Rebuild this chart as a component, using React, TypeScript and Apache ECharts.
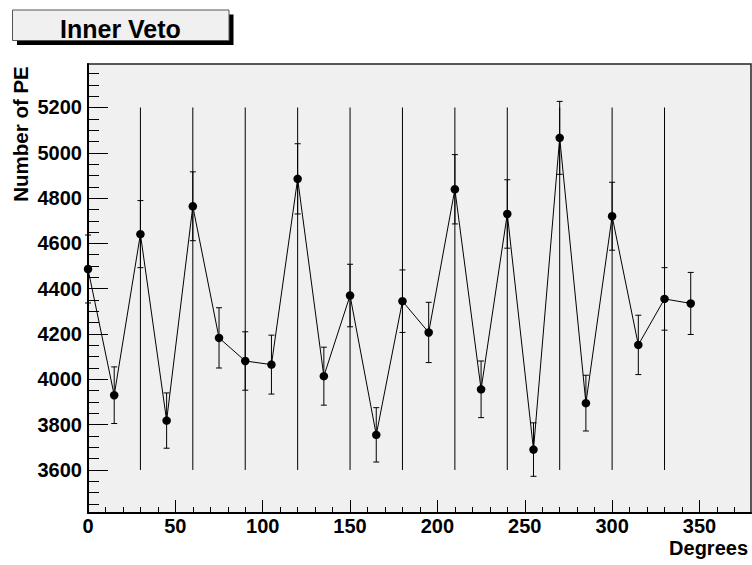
import React, { useEffect, useRef } from "react";
import * as echarts from "echarts";

// Data
const angles = [0, 15, 30, 45, 60, 75, 90, 105, 120, 135, 150, 165, 180, 195, 210, 225, 240, 255, 270, 285, 300, 315, 330, 345];
const numberOfPE = [4487, 3930, 4641, 3818, 4764, 4183, 4081, 4065, 4885, 4014, 4370, 3755, 4345, 4207, 4839, 3956, 4730, 3690, 5066, 3895, 4720, 4152, 4355, 4335];
const peError = [150, 125, 148, 122, 152, 133, 129, 130, 155, 128, 138, 120, 138, 133, 153, 125, 151, 118, 161, 123, 150, 131, 138, 137];

// Vertical marker lines
const pmtAngles = [30, 60, 90, 120, 150, 180, 210, 240, 270, 300, 330];
const pmtLineLow = 3600;
const pmtLineHigh = 5200;

// Axis ticks
const xMajorTicks = [0, 50, 100, 150, 200, 250, 300, 350];
const xMinorTicks = [10, 20, 30, 40, 60, 70, 80, 90, 110, 120, 130, 140, 160, 170, 180, 190, 210, 220, 230, 240, 260, 270, 280, 290, 310, 320, 330, 340, 360, 370];
const yMajorTicks = [3600, 3800, 4000, 4200, 4400, 4600, 4800, 5000, 5200];
const yMinorTicks = [3450, 3500, 3550, 3650, 3700, 3750, 3850, 3900, 3950, 4050, 4100, 4150, 4250, 4300, 4350, 4450, 4500, 4550, 4650, 4700, 4750, 4850, 4900, 4950, 5050, 5100, 5150, 5250, 5300, 5350];

const X_MIN = 0;
const X_MAX = 379.5;
const Y_MIN = 3410;
const Y_MAX = 5392;

const FONT = "'Liberation Sans', Arial, Helvetica, sans-serif";

export default function App() {
  const ref = useRef<HTMLDivElement>(null);

  useEffect(() => {
    if (!ref.current) return;
    const chart = echarts.init(ref.current, undefined, { renderer: "svg" });

    const labelStyle = {
      fontFamily: FONT,
      fontSize: 20,
      fontWeight: "bold" as const,
      color: "#000",
    };

    const points = angles.map((a, i) => [a, numberOfPE[i]]);
    const errors = angles.map((a, i) => [a, numberOfPE[i] - peError[i], numberOfPE[i] + peError[i]]);
    const pmtLines = pmtAngles.map((a) => [a, pmtLineLow, pmtLineHigh]);

    const option: any = {
      animation: false,
      backgroundColor: "#fff",
      title: {
        text: "Inner Veto",
        left: 60,
        top: 16,
        padding: 0,
        z: 10,
        textStyle: { fontFamily: FONT, fontSize: 25, fontWeight: "bold", color: "#000", lineHeight: 25 },
      },
      grid: {
        left: 88,
        top: 64,
        width: 663,
        height: 449,
        show: true,
        backgroundColor: "#f0f0f0",
        borderColor: "#222",
        borderWidth: 1.5,
      },
      xAxis: [
        {
          type: "value",
          min: X_MIN,
          max: X_MAX,
          position: "bottom",
          axisLine: { show: true, onZero: false, lineStyle: { color: "#000", width: 2 } },
          axisTick: { show: true, inside: true, length: 13, customValues: xMajorTicks, lineStyle: { color: "#000", width: 1 } },
          axisLabel: { ...labelStyle, customValues: xMajorTicks, margin: 3, formatter: (v: number) => String(v) },
          splitLine: { show: false },
        },
        {
          type: "value",
          min: X_MIN,
          max: X_MAX,
          position: "bottom",
          axisLine: { show: false, onZero: false },
          axisTick: { show: true, inside: true, length: 6, customValues: xMinorTicks, lineStyle: { color: "#000", width: 1 } },
          axisLabel: { show: false },
          splitLine: { show: false },
        },
      ],
      yAxis: [
        {
          type: "value",
          min: Y_MIN,
          max: Y_MAX,
          position: "left",
          axisLine: { show: true, onZero: false, lineStyle: { color: "#000", width: 2 } },
          axisTick: { show: true, inside: true, length: 20, customValues: yMajorTicks, lineStyle: { color: "#000", width: 1 } },
          axisLabel: { ...labelStyle, customValues: yMajorTicks, margin: 6, formatter: (v: number) => String(v) },
          splitLine: { show: false },
        },
        {
          type: "value",
          min: Y_MIN,
          max: Y_MAX,
          position: "left",
          axisLine: { show: false, onZero: false },
          axisTick: { show: true, inside: true, length: 11, customValues: yMinorTicks, lineStyle: { color: "#000", width: 1 } },
          axisLabel: { show: false },
          splitLine: { show: false },
        },
      ],
      graphic: [
        { type: "rect", z: 1, shape: { x: 17, y: 14.5, width: 216.5, height: 30.5 }, style: { fill: "#000" } },
        { type: "rect", z: 2, shape: { x: 12.5, y: 10, width: 216.5, height: 30.5 }, style: { fill: "#f0f0f0", stroke: "#555", lineWidth: 1 } },
        {
          type: "text",
          z: 5,
          x: 20,
          y: 134,
          rotation: Math.PI / 2,
          style: { text: "Number of PE", fontFamily: FONT, fontSize: 20.5, fontWeight: "bold", fill: "#000", textAlign: "center", textVerticalAlign: "middle" },
        },
        {
          type: "text",
          z: 5,
          x: 748,
          y: 537.5,
          style: { text: "Degrees", fontFamily: FONT, fontSize: 20, fontWeight: "bold", fill: "#000", textAlign: "right", textVerticalAlign: "top" },
        },
      ],
      series: [
        {
          name: "PMT lines",
          type: "custom",
          xAxisIndex: 0,
          yAxisIndex: 0,
          data: pmtLines,
          silent: true,
          renderItem: (params: any, api: any) => {
            const x = api.value(0);
            const lo = api.coord([x, api.value(1)]);
            const hi = api.coord([x, api.value(2)]);
            return {
              type: "line",
              shape: { x1: lo[0], y1: lo[1], x2: hi[0], y2: hi[1] },
              style: { stroke: "#000", lineWidth: 1 },
            };
          },
        },
        {
          name: "Errors",
          type: "custom",
          xAxisIndex: 0,
          yAxisIndex: 0,
          data: errors,
          silent: true,
          renderItem: (params: any, api: any) => {
            const x = api.value(0);
            const lo = api.coord([x, api.value(1)]);
            const hi = api.coord([x, api.value(2)]);
            const w = 3;
            const st = { stroke: "#000", lineWidth: 1 };
            return {
              type: "group",
              children: [
                { type: "line", shape: { x1: lo[0], y1: lo[1], x2: hi[0], y2: hi[1] }, style: st },
                { type: "line", shape: { x1: lo[0] - w, y1: lo[1], x2: lo[0] + w, y2: lo[1] }, style: st },
                { type: "line", shape: { x1: hi[0] - w, y1: hi[1], x2: hi[0] + w, y2: hi[1] }, style: st },
              ],
            };
          },
        },
        {
          name: "Number of PE",
          type: "line",
          xAxisIndex: 0,
          yAxisIndex: 0,
          data: points,
          clip: false,
          symbol: "circle",
          symbolSize: 8.5,
          itemStyle: { color: "#000" },
          lineStyle: { color: "#000", width: 1 },
          z: 5,
        },
      ],
    };

    chart.setOption(option);
    return () => chart.dispose();
  }, []);

  return (
    <div
      ref={ref}
      style={{ position: "absolute", left: 0, top: 0, width: 752, height: 565 }}
    />
  );
}
